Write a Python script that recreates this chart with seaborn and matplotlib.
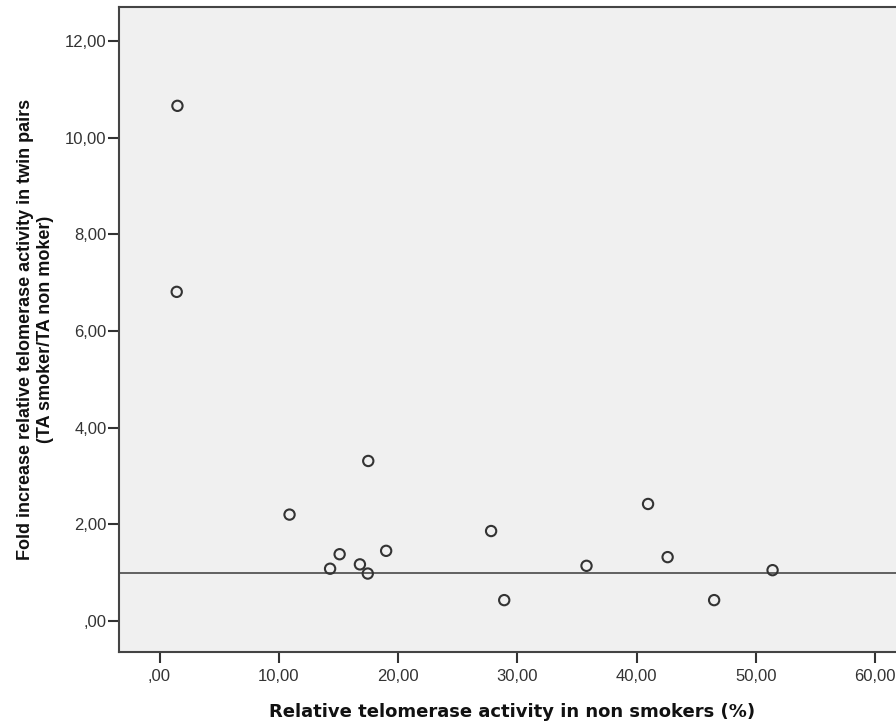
import numpy as np
import pandas as pd
import matplotlib
matplotlib.use('Agg')
import matplotlib.pyplot as plt
import seaborn as sns

# Values
ta_non_smokers = [1.5, 1.44, 17.5, 10.9, 15.1, 14.3, 16.8, 17.46, 19.0, 27.8, 28.9,
                  35.8, 40.96, 42.6, 46.5, 51.4]
fold_increase = [10.66, 6.81, 3.31, 2.20, 1.38, 1.08, 1.17, 0.98, 1.45, 1.86, 0.43,
                 1.14, 2.42, 1.32, 0.43, 1.05]
x_ticks = [0, 10, 20, 30, 40, 50, 60]
y_ticks = [0, 2, 4, 6, 8, 10, 12]
reference_line = 1.0

df = pd.DataFrame({'ta': ta_non_smokers, 'fold': fold_increase})

sns.set_style('white')
plt.rcParams['font.family'] = ['Liberation Sans', 'DejaVu Sans']

fig = plt.figure(figsize=(8.96, 7.26), dpi=100)
ax = fig.add_axes([0.1328, 0.1015, 0.8672 + 0.01, 0.8885])
ax.set_facecolor('#f0f0f0')

ax.axhline(reference_line, color='#555555', lw=1.3, zorder=1)
sns.scatterplot(data=df, x='ta', y='fold', ax=ax, marker='o', s=55,
                facecolor='none', edgecolor='#333333', linewidth=1.5, zorder=3)

ax.set_xlim(-3.4, 62.5)
ax.set_ylim(-0.65, 12.7)
ax.set_xticks(x_ticks)
ax.set_yticks(y_ticks)
fmt = lambda v: (',00' if v == 0 else f'{v},00')
ax.set_xticklabels([fmt(v) for v in x_ticks])
ax.set_yticklabels([fmt(v) for v in y_ticks])
ax.tick_params(axis='both', direction='out', length=8, width=1.5, color='#333333',
               labelsize=12, labelcolor='#333333', bottom=True, left=True)
ax.tick_params(axis='x', pad=4)
ax.tick_params(axis='y', pad=1)

for side in ['left', 'bottom', 'top', 'right']:
    ax.spines[side].set_color('#444444')
    ax.spines[side].set_linewidth(1.5)

ax.set_xlabel('Relative telomerase activity in non smokers (%)', fontsize=13,
              fontweight='bold', family=['DejaVu Sans'], labelpad=14, color='#111111')
ax.set_ylabel('Fold increase relative telomerase activity in twin pairs\n(TA smoker/TA non moker)',
              fontsize=13, fontweight='bold', labelpad=8, color='#111111')

fig.savefig('out.png', dpi=100)
